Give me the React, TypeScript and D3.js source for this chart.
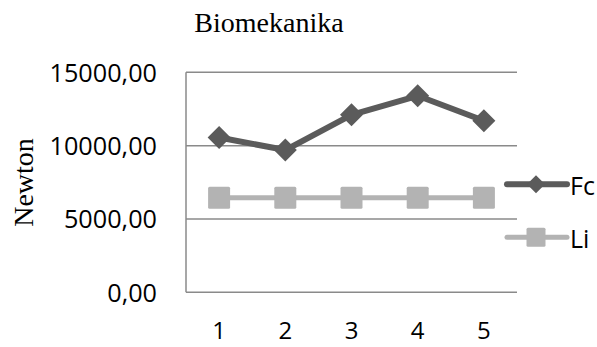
import React, { useEffect, useRef } from "react";
import * as d3 from "d3";

const categories = ["1", "2", "3", "4", "5"];
const fcValues = [10550, 9700, 12100, 13400, 11700];
const liValues = [6450, 6450, 6450, 6450, 6450];
const yTicks = [0, 5000, 10000, 15000];
const seriesNames = ["Fc", "Li"];

const W = 597;
const H = 347;

export default function App() {
  const ref = useRef<SVGSVGElement | null>(null);

  useEffect(() => {
    const svg = d3.select(ref.current!);
    svg.selectAll("*").remove();

    const left = 186, right = 517, top = 72.3, bottom = 292.3;
    const x = d3.scaleBand<string>().domain(categories).range([left, right]);
    const y = d3.scaleLinear().domain([0, 15000]).range([bottom, top]);
    const cx = (c: string) => (x(c) as number) + x.bandwidth() / 2;

    const gridColor = "#8a8a8a";
    const fcColor = "#5b5b5b";
    const liColor = "#b3b3b3";
    const sans = "'Open Sans', sans-serif";
    const serif = "'Liberation Serif', 'Times New Roman', serif";

    // gridlines
    svg.append("g")
      .selectAll("line")
      .data(yTicks)
      .join("line")
      .attr("x1", left)
      .attr("x2", right)
      .attr("y1", (d) => y(d))
      .attr("y2", (d) => y(d))
      .attr("stroke", gridColor)
      .attr("stroke-width", 1.5);

    // left axis line
    svg.append("line")
      .attr("x1", left).attr("x2", left)
      .attr("y1", top).attr("y2", bottom)
      .attr("stroke", gridColor).attr("stroke-width", 1.5);

    // y tick labels
    const fmt = (d: number) => d3.format(".2f")(d).replace(".", ",");
    svg.append("g")
      .selectAll("text")
      .data(yTicks)
      .join("text")
      .attr("transform", (d) => `translate(157,${y(d) + 9.4}) scale(0.97,1)`)
      .attr("text-anchor", "end")
      .attr("font-family", sans)
      .attr("font-size", 26)
      .attr("fill", "#000")
      .text((d) => fmt(d));

    // x labels
    svg.append("g")
      .selectAll("text")
      .data(categories)
      .join("text")
      .attr("x", (d) => cx(d))
      .attr("y", 339)
      .attr("text-anchor", "middle")
      .attr("font-family", sans)
      .attr("font-size", 24)
      .attr("fill", "#000")
      .text((d) => d);

    // title
    svg.append("text")
      .attr("x", 269)
      .attr("y", 31.7)
      .attr("text-anchor", "middle")
      .attr("font-family", serif)
      .attr("font-size", 28)
      .attr("fill", "#000")
      .text("Biomekanika");

    // y axis title
    svg.append("text")
      .attr("transform", `translate(33,182.5) rotate(-90)`)
      .attr("text-anchor", "middle")
      .attr("font-family", serif)
      .attr("font-size", 28)
      .attr("fill", "#000")
      .text("Newton");

    const line = d3.line<number>()
      .x((_, i) => cx(categories[i]))
      .y((d) => y(d));

    // Li series
    svg.append("path")
      .attr("d", line(liValues) as string)
      .attr("fill", "none")
      .attr("stroke", liColor)
      .attr("stroke-width", 5);
    svg.append("g")
      .selectAll("rect")
      .data(liValues)
      .join("rect")
      .attr("x", (_, i) => cx(categories[i]) - 11)
      .attr("y", (d) => y(d) - 11)
      .attr("width", 22)
      .attr("height", 22)
      .attr("rx", 1.5)
      .attr("fill", liColor);

    // Fc series
    svg.append("path")
      .attr("d", line(fcValues) as string)
      .attr("fill", "none")
      .attr("stroke", fcColor)
      .attr("stroke-width", 6)
      .attr("stroke-linejoin", "round");
    const diamond = (s: number) => `M0,${-s}L${s},0L0,${s}L${-s},0Z`;
    svg.append("g")
      .selectAll("path")
      .data(fcValues)
      .join("path")
      .attr("transform", (d, i) => `translate(${cx(categories[i])},${y(d)})`)
      .attr("d", diamond(11.5))
      .attr("fill", fcColor);

    // legend
    const legY = [184.3, 237.3];
    const legColors = [fcColor, liColor];
    seriesNames.forEach((name, i) => {
      const g = svg.append("g");
      g.append("line")
        .attr("x1", 507).attr("x2", 567)
        .attr("y1", legY[i]).attr("y2", legY[i])
        .attr("stroke", legColors[i])
        .attr("stroke-width", i === 0 ? 6 : 5)
        .attr("stroke-linecap", "round");
      if (i === 0) {
        g.append("path")
          .attr("transform", `translate(536,${legY[i]})`)
          .attr("d", diamond(9))
          .attr("fill", legColors[i]);
      } else {
        g.append("rect")
          .attr("x", 536 - 9.5).attr("y", legY[i] - 9.5)
          .attr("width", 19).attr("height", 19)
          .attr("rx", 1.5)
          .attr("fill", legColors[i]);
      }
      g.append("text")
        .attr("x", 570)
        .attr("y", legY[i] + 10.5)
        .attr("font-family", sans)
        .attr("font-size", 25)
        .attr("fill", "#000")
        .text(name);
    });
  }, []);

  return (
    <svg
      ref={ref}
      width={W}
      height={H}
      style={{ position: "absolute", left: 0, top: 0, background: "#fff" }}
    />
  );
}
